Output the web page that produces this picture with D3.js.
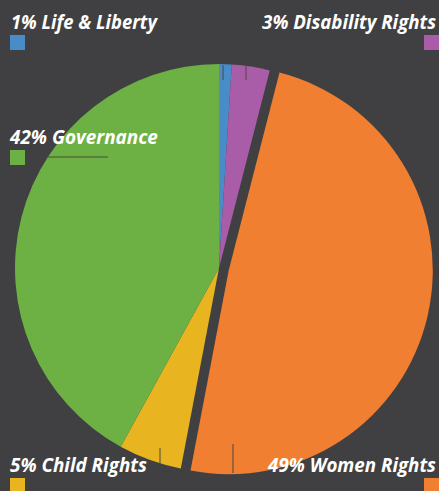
<!DOCTYPE html>
<html><head><meta charset="utf-8">
<script src="https://cdn.jsdelivr.net/npm/d3@7"></script>
<style>html,body{margin:0;padding:0;background:#404042;overflow:hidden}</style>
</head><body>
<svg id="c" width="439" height="491"></svg>
<script>
const categories = ["Life & Liberty", "Disability Rights", "Women Rights", "Child Rights", "Governance"];
const values = [1, 3, 49, 5, 42];
const colors = ["#4a8bca", "#a95ca7", "#f07f32", "#e8b521", "#6db145"];
const exploded = [false, false, true, false, false];

const W = 439, H = 491;
const svg = d3.select("#c");
svg.append("rect").attr("width", W).attr("height", H).attr("fill", "#404042");

const cx = 219, cy = 268, R = 204, explode = 10;
const pie = d3.pie().sort(null).value(d => d).startAngle(0).endAngle(2 * Math.PI);
const arcs = pie(values);
const arc = d3.arc().innerRadius(0).outerRadius(R);

const g = svg.append("g").attr("transform", `translate(${cx},${cy})`);
g.selectAll("path").data(arcs).join("path")
  .attr("d", arc)
  .attr("fill", (d, i) => colors[i])
  .attr("transform", (d, i) => {
    if (!exploded[i]) return null;
    const a = (d.startAngle + d.endAngle) / 2;
    return `translate(${Math.sin(a) * explode},${-Math.cos(a) * explode})`;
  });

// leader ticks (decorative)
const leaderColor = "#4b4a3c";
const leaders = [
  [[223, 65], [223, 80]],
  [[246, 66], [246, 80]],
  [[48, 157], [108, 157]],
  [[160, 448], [160, 464]],
  [[233, 444], [233, 473]]
];
svg.selectAll("line.ld").data(leaders).join("line").attr("class", "ld")
  .attr("x1", d => d[0][0]).attr("y1", d => d[0][1])
  .attr("x2", d => d[1][0]).attr("y2", d => d[1][1])
  .attr("stroke", leaderColor).attr("stroke-width", 1);

// labels
const pct = values.map(v => v + "%");
const labelPos = [
  {x: 11, y: 29, anchor: "start", w: 146},
  {x: 436, y: 29, anchor: "end", w: 174},
  {x: 436, y: 472, anchor: "end", w: 168},
  {x: 10, y: 472, anchor: "start", w: 137},
  {x: 10, y: 144, anchor: "start", w: 148}
];
const sq = 15;
categories.forEach((c, i) => {
  const p = labelPos[i];
  const grp = svg.append("g");
  const t = grp.append("text")
    .attr("x", 0).attr("y", 0)
    .attr("text-anchor", p.anchor)
    .attr("font-family", "'Open Sans', sans-serif")
    .attr("font-style", "italic")
    .attr("font-weight", 700)
    .attr("font-size", 19.5)
    .attr("fill", "#ffffff")
    .text(pct[i] + " " + c);
  const len = t.node().getComputedTextLength();
  const sx = len > 0 ? p.w / len : 1;
  grp.attr("transform", `translate(${p.x},${p.y}) scale(${sx.toFixed(4)},1)`);
  svg.append("rect")
    .attr("x", p.anchor === "end" ? 439 - sq : 10)
    .attr("y", p.y + 6)
    .attr("width", sq).attr("height", sq)
    .attr("fill", colors[i]);
});
</script>
</body></html>
